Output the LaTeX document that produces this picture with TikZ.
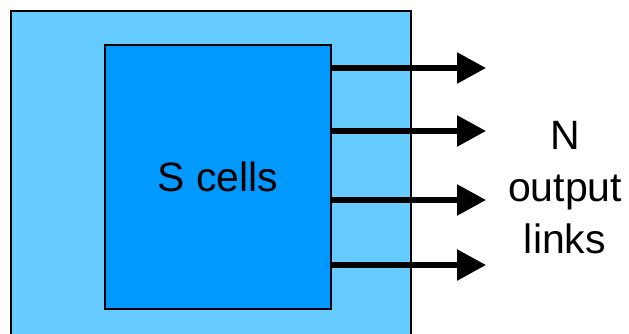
\documentclass[tikz,border=0pt]{standalone}
\usepackage{fontspec}
\setmainfont{Liberation Sans}
\usetikzlibrary{arrows.meta,positioning}
\definecolor{outerblue}{RGB}{102,204,255}
\definecolor{innerblue}{RGB}{0,153,255}
\tikzset{
    outer box/.style={
        draw,line width=1.5pt,
        fill=outerblue,
        minimum width=400pt,minimum height=340pt,
        anchor=north west,inner sep=0pt
    },
    cell box/.style={
        draw,line width=1.5pt,
        fill=innerblue,
        minimum width=226pt,minimum height=264pt,
        anchor=north west,inner sep=0pt,
        font=\fontsize{41}{45}\selectfont
    },
    link/.style={line width=5.5pt,-{Triangle[length=29pt,width=30pt]}},
    x=1pt,y=-1pt
}
\begin{document}
\begin{tikzpicture}
\useasboundingbox (0,0) rectangle (629,333);
\clip (0,0) rectangle (629,333);
\node[outer box] (switch) at (10,10) {};
\node[cell box] (cells) at (104,44) {S cells};
\foreach \i/\y in {1/68,2/131,3/200,4/265} {
    \coordinate (out_\i) at (486,\y);
    \draw[link] (cells.east |- out_\i) -- (out_\i);
}
\node[align=center,font=\fontsize{41}{52}\selectfont] (links) at (565,188) {N\\output\\links};
\end{tikzpicture}
\end{document}
